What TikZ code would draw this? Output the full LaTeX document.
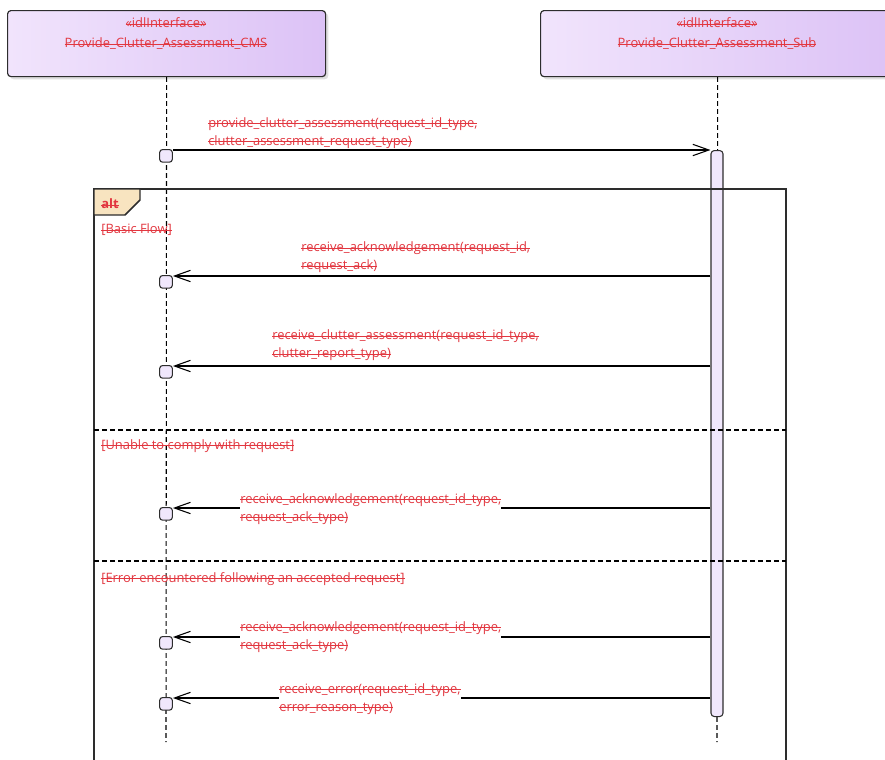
\documentclass[tikz,border=0pt]{standalone}
\usepackage{fontspec}
\setmainfont{Open Sans}
\usetikzlibrary{arrows.meta,positioning,calc,shadows}
\definecolor{lblred}{RGB}{226,55,64}
\definecolor{boxleft}{RGB}{241,228,252}
\definecolor{boxright}{RGB}{220,194,246}
\definecolor{barfill}{RGB}{240,231,252}
\definecolor{tagfill}{RGB}{248,228,192}
\definecolor{frameclr}{RGB}{45,45,45}
\tikzset{
  ifacebox/.style={draw=frameclr, line width=0.9pt, rounded corners=2.5pt,
    left color=boxleft, right color=boxright, anchor=north west,
    drop shadow={shadow xshift=2pt, shadow yshift=-2pt, opacity=0.25}},
  lbl/.style={text=lblred, font=\fontsize{9.7}{13.5}\selectfont, inner sep=0pt},
  msglbl/.style={lbl, align=left, anchor=west, fill=white},
  lifeln/.style={dash pattern=on 3.5pt off 2.5pt, line width=0.8pt},
  msgln/.style={-{Straight Barb[length=12pt,width=8.5pt]}, line width=0.8pt},
  execsq/.style={draw=frameclr, fill=barfill, line width=0.8pt, rounded corners=2.2pt,
    minimum size=9.5pt, inner sep=0pt, anchor=north},
  actbar/.style={draw=frameclr, fill=barfill, line width=0.8pt, rounded corners=2.5pt,
    minimum width=9pt, inner sep=0pt, anchor=north},
  framebox/.style={draw=frameclr, line width=1.1pt},
  sepln/.style={dash pattern=on 3.5pt off 2.5pt, line width=0.8pt},
}
\newsavebox{\strkbox}
\newcommand{\strk}[1]{\sbox{\strkbox}{#1}%
  \rlap{\rule[0.5ex]{\wd\strkbox}{0.4pt}}\usebox{\strkbox}}

\begin{document}
\begin{tikzpicture}[x=0.75pt, y=-0.75pt]
    \useasboundingbox (0,0) rectangle (885,760);
    % interface heads
    \node[ifacebox, minimum width=238.5pt, minimum height=49.5pt] (cms) at (7,10) {};
    \node[ifacebox, minimum width=265.5pt, minimum height=49.5pt] (sub) at (540,10) {};
    \node[lbl] (cmsst) at (166,23) {\strk{«idlInterface»}};
    \node[lbl] (cmsnm) at (166,44) {\strk{Provide\_Clutter\_Assessment\_CMS}};
    \node[lbl] (subst) at (717,23) {\strk{«idlInterface»}};
    \node[lbl] (subnm) at (717,44) {\strk{Provide\_Clutter\_Assessment\_Sub}};
    % lifelines
    \coordinate (cmsend) at (166,742);
    \coordinate (subend) at (717,742);
    \draw[lifeln] (cms.south) -- (cmsend);
    \draw[lifeln] (sub.south) -- (subend);
    \node[actbar, minimum height=424.5pt] (act) at (717,150) {};
    % alt frame
    \draw[framebox] (94,189) rectangle (786,780);
    \draw[framebox, fill=tagfill] (94,189) -- (140,189) -- (140,200) -- (125,215)
      -- (94,215) -- cycle;
    \node[lbl, font=\bfseries\fontsize{9.7}{13.5}\selectfont, anchor=west] (alttag) at (101,204) {\strk{alt}};
    \draw[sepln] (94,430) -- (786,430);
    \draw[sepln] (94,561) -- (786,561);
    \node[lbl, anchor=west] (grd1) at (101,230) {\strk{[Basic Flow]}};
    \node[lbl, anchor=west] (grd2) at (101,446) {\strk{[Unable to comply with request]}};
    \node[lbl, anchor=west] (grd3) at (101,579) {\strk{[Error encountered following an accepted request]}};
    % request
    \node[execsq] (sq1) at (166,149) {};
    \draw[msgln] (sq1.east |- act.north) -- (act.north west);
    \node[msglbl] (lb1) at (208,133)
      {\strk{provide\_clutter\_assessment(request\_id\_type,}\\\strk{clutter\_assessment\_request\_type)}};
    % replies
    \foreach \i/\y/\lx/\ly/\la/\lb in {
      2/276/301/257.5/{receive\_acknowledgement(request\_id,}/{request\_ack)},
      3/366/272/345.5/{receive\_clutter\_assessment(request\_id\_type,}/{clutter\_report\_type)},
      4/508/240/509/{receive\_acknowledgement(request\_id\_type,}/{request\_ack\_type)},
      5/637/240/637/{receive\_acknowledgement(request\_id\_type,}/{request\_ack\_type)},
      6/698/279/699/{receive\_error(request\_id\_type,}/{error\_reason\_type)}} {
      \coordinate (r\i) at (717,\y);
      \node[execsq] (sq\i) at (166,\y-1) {};
      \draw[msgln] (act.west |- r\i) -- (sq\i.east |- r\i);
      \node[msglbl] (lb\i) at (\lx,\ly) {\strk{\la}\\\strk{\lb}};
    }
  \end{tikzpicture}
\end{document}
